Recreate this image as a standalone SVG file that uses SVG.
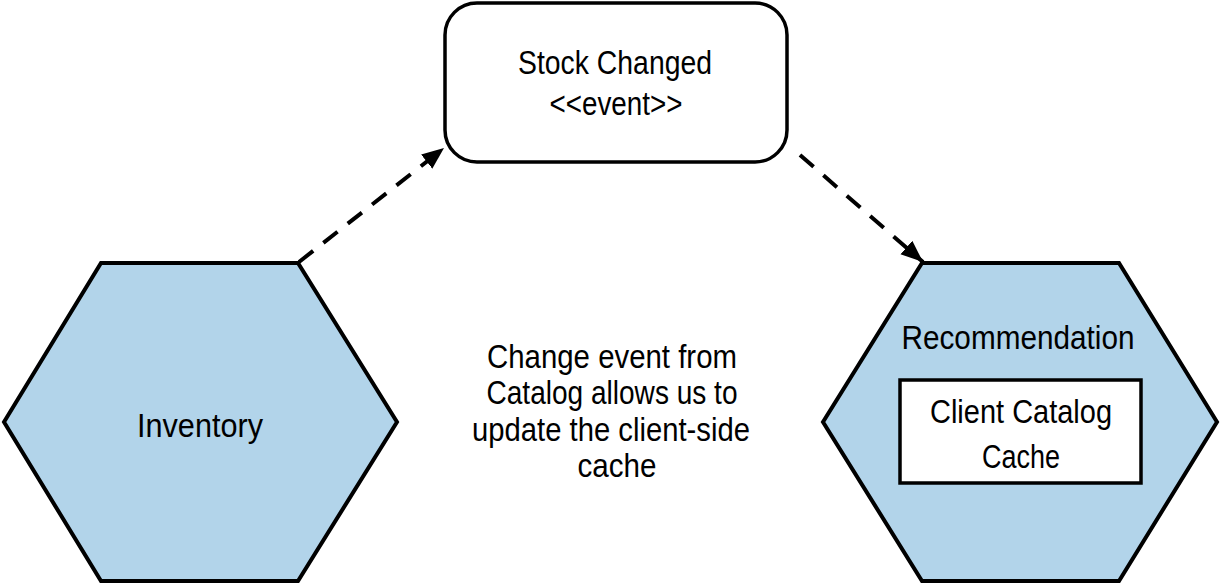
<svg xmlns="http://www.w3.org/2000/svg" width="1220" height="585" viewBox="0 0 1220 585">
  <style>
    .hex { fill: #b2d4ea; stroke: #000; stroke-width: 4; stroke-linejoin: miter; }
    .box { fill: #fff; stroke: #000; stroke-width: 3.5; }
    .lbl { font-family: "Liberation Sans", Arial, sans-serif; font-size: 33px; fill: #000; text-anchor: middle; }
    .conn { fill: none; stroke: #000; stroke-width: 4; stroke-dasharray: 18 13; }
  </style>
  <defs>
    <marker id="arrow" markerUnits="userSpaceOnUse" markerWidth="24" markerHeight="20" refX="22" refY="10" orient="auto">
      <path d="M0,1 L22,10 L0,19 Z" fill="#000"/>
    </marker>
  </defs>
  <rect width="1220" height="585" fill="#fff"/>

  <g id="connectors">
    <line class="conn" x1="299" y1="262" x2="444" y2="148" marker-end="url(#arrow)"/>
    <line class="conn" x1="800" y1="155" x2="923" y2="262" marker-end="url(#arrow)"/>
  </g>

  <g id="stock-changed">
    <rect class="box" x="445" y="3" width="342" height="159" rx="32" ry="32"/>
    <text class="lbl" x="615" y="74" textLength="194" lengthAdjust="spacingAndGlyphs">Stock Changed</text>
    <text class="lbl" x="616" y="115" textLength="133" lengthAdjust="spacingAndGlyphs">&lt;&lt;event&gt;&gt;</text>
  </g>

  <g id="inventory">
    <polygon class="hex" points="101,263 298,263 397,422 298,581 101,581 4,422"/>
    <text class="lbl" x="200" y="437" textLength="126" lengthAdjust="spacingAndGlyphs">Inventory</text>
  </g>

  <g id="recommendation">
    <polygon class="hex" points="922,263 1119,263 1217,422 1119,581 922,581 823,422"/>
    <text class="lbl" x="1018" y="349" textLength="233" lengthAdjust="spacingAndGlyphs">Recommendation</text>
    <g id="client-catalog-cache">
      <rect class="box" x="900" y="380" width="241" height="103"/>
      <text class="lbl" x="1021" y="423" textLength="182" lengthAdjust="spacingAndGlyphs">Client Catalog</text>
      <text class="lbl" x="1021" y="468" textLength="78" lengthAdjust="spacingAndGlyphs">Cache</text>
    </g>
  </g>

  <g id="note">
    <text class="lbl" x="612" y="368" textLength="250" lengthAdjust="spacingAndGlyphs">Change event from</text>
    <text class="lbl" x="612" y="404" textLength="251" lengthAdjust="spacingAndGlyphs">Catalog allows us to</text>
    <text class="lbl" x="611" y="441" textLength="278" lengthAdjust="spacingAndGlyphs">update the client-side</text>
    <text class="lbl" x="617" y="477" textLength="79" lengthAdjust="spacingAndGlyphs">cache</text>
  </g>
</svg>
